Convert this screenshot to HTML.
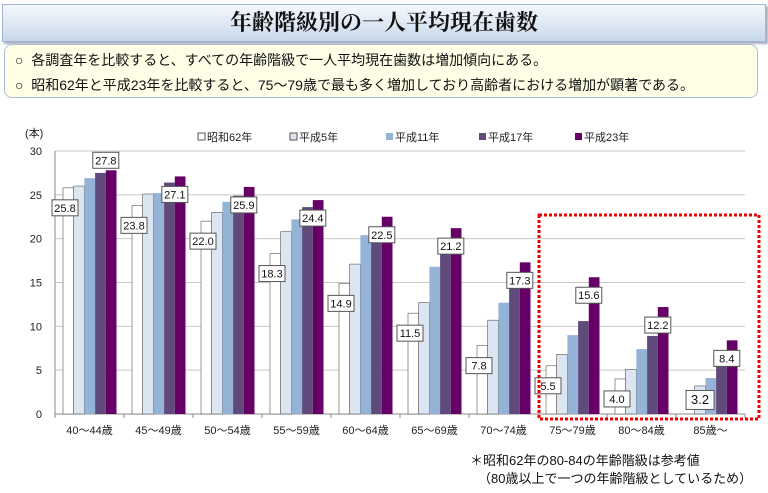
<!DOCTYPE html>
<html><head><meta charset="utf-8"><style>
body{margin:0;width:768px;height:493px;background:#fff;font-family:"Liberation Sans","Noto Sans CJK JP",sans-serif;position:relative;overflow:hidden}
#title{position:absolute;left:2px;top:4px;width:762px;height:36px;background:linear-gradient(#f4f8fc,#dbe6f3 60%,#c6d6ea);border:1px solid #9fb6d2;box-shadow:2px 2px 2px #aab;text-align:center;font:bold 22px/36px "Liberation Serif","Noto Serif CJK SC",serif;color:#111}
#notes{position:absolute;left:4px;top:44px;width:752px;height:52px;background:#ffffe8;border:1px solid #a9bfd6;border-radius:8px;font-size:14px;color:#111}
#notes div{position:absolute;left:10px}
</style></head><body>
<div id="title">年齢階級別の一人平均現在歯数</div>
<div id="notes">
<div style="top:5px">○&nbsp; 各調査年を比較すると、すべての年齢階級で一人平均現在歯数は増加傾向にある。</div>
<div style="top:30px">○&nbsp; 昭和62年と平成23年を比較すると、75～79歳で最も多く増加しており高齢者における増加が顕著である。</div>
</div>
<svg id="chart" width="768" height="493" style="position:absolute;left:0;top:0"></svg>
<script>
const categories=["40～44歳","45～49歳","50～54歳","55～59歳","60～64歳","65～69歳","70～74歳","75～79歳","80～84歳","85歳～"];
const seriesNames=["昭和62年","平成5年","平成11年","平成17年","平成23年"];
const s62=[25.8,23.8,22.0,18.3,14.9,11.5,7.8,5.5,4.0,null];
const h5=[26.0,25.1,23.0,20.8,17.1,12.7,10.7,6.8,5.1,3.2];
const h11=[26.9,25.2,24.2,22.2,20.4,16.8,12.7,9.0,7.4,4.1];
const h17=[27.5,26.4,24.9,23.6,21.2,18.3,15.1,10.6,8.9,6.1];
const h23=[27.8,27.1,25.9,24.4,22.5,21.2,17.3,15.6,12.2,8.4];
const firstLabels=["25.8","23.8","22.0","18.3","14.9","11.5","7.8","5.5","4.0","3.2"];
const lastLabels=["27.8","27.1","25.9","24.4","22.5","21.2","17.3","15.6","12.2","8.4"];
const yTicks=[0,5,10,15,20,25,30];
const colors=["#ffffff","#dce6f2","#95b3d7","#604a7b","#660066"];
const NS="http://www.w3.org/2000/svg";
const svg=document.getElementById('chart');
const X0=55,GW=69,Y0=414,YMAX=30,PH=263,BW=10.7,BOFF=8;
const y=v=>Y0-v/YMAX*PH;
const gx=i=>X0+i*GW;
function mk(t,a,txt){const e=document.createElementNS(NS,t);for(const k in a)e.setAttribute(k,a[k]);if(txt!=null)e.textContent=txt;svg.appendChild(e);return e;}
yTicks.forEach(t=>{
 const g=mk('line',{x1:X0,x2:745,y1:y(t),y2:y(t),stroke:t?'#c8c8c8':'#888','stroke-width':1});
 
 
 const l=mk('text',{x:42,y:y(t)+4,'text-anchor':'end','font-size':11,fill:'#222'},t);
 
 
});
mk('line',{x1:X0,x2:X0,y1:y(30),y2:Y0,stroke:'#888'});
const yt=mk('text',{x:25,y:137,'font-size':11,fill:'#222'},'(本)');


const all=[s62,h5,h11,h17,h23];
categories.forEach((c,i)=>{
 mk('line',{x1:gx(i),x2:gx(i),y1:Y0,y2:Y0+4,stroke:'#888'});
 const xl=mk('text',{x:gx(i)+GW/2,y:434,'text-anchor':'middle','font-size':11,fill:'#222'},c);
 
 
 all.forEach((s,k)=>{
  if(s[i]==null)return;
  const b=mk('rect',{x:gx(i)+BOFF+k*BW,y:y(s[i]),width:BW,height:Y0-y(s[i]),fill:colors[k],stroke:k<2?'#555':'none','stroke-width':0.6});
  
  
 });
});
mk('line',{x1:745,x2:745,y1:Y0,y2:Y0+4,stroke:'#888'});
function label(cx,cy,txt,big){
 const w=big?28:26,h=big?19:16;
 const r=mk('rect',{x:cx-w/2,y:cy-h/2,width:w,height:h,fill:'#fff',stroke:'#555','stroke-width':1});
 
 
 const t=mk('text',{x:cx,y:cy+4,'text-anchor':'middle','font-size':big?13:11,fill:'#111'},txt);
 
 
}
categories.forEach((c,i)=>{
 const v0=s62[i]!=null?s62[i]:h5[i];
 const big=s62[i]==null;
 label(gx(i)+(big?BOFF+BW*1.5:BOFF+2),big?y(v0)+14:y(v0)+20,firstLabels[i],big);
 label(gx(i)+BOFF+BW*4,i==0?y(h23[i])-10:y(h23[i])+18,lastLabels[i],false);
});
const lx=[198,290,386,479,575];
seriesNames.forEach((n,k)=>{
 const r=mk('rect',{x:lx[k],y:133,width:7,height:7,fill:colors[k],stroke:k<2?'#555':'none'});
 
 
 const t=mk('text',{x:lx[k]+9,y:141,'font-size':11,fill:'#222'},n);
 
 
});
const hb=mk('rect',{x:539,y:215,width:220,height:204,fill:'none',stroke:'#e00','stroke-width':3,'stroke-dasharray':'3 2'});


const f1=mk('text',{x:470,y:465,'font-size':13,fill:'#111'},'＊昭和62年の80-84の年齢階級は参考値');


const f2=mk('text',{x:478,y:483,'font-size':13,fill:'#111'},'（80歳以上で一つの年齢階級としているため）');


</script>
</body></html>
